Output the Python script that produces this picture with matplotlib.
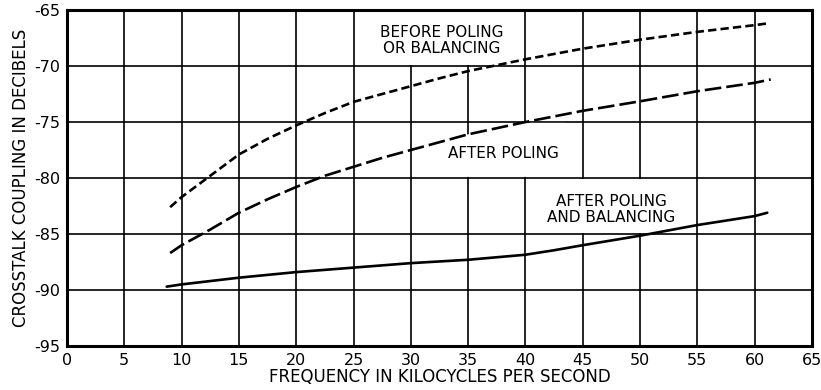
import numpy as np
import matplotlib
matplotlib.use("Agg")
import matplotlib.pyplot as plt
from matplotlib.patches import Rectangle

plt.rcParams['font.family'] = ['DejaVu Sans']
plt.rcParams['lines.scale_dashes'] = False

# Data (frequency in kc, crosstalk coupling in dB)
freq_before = [9.0, 10, 12.5, 15, 17.5, 20, 22.5, 25, 27.5, 30, 32.5, 35, 40, 45, 50, 55, 60, 61.1]
before_poling = [-82.6, -81.7, -79.8, -77.9, -76.5, -75.3, -74.2, -73.2, -72.5, -71.8, -71.1,
                 -70.45, -69.4, -68.45, -67.65, -66.95, -66.35, -66.2]

freq_after = [9.0, 10, 12.5, 15, 17.5, 20, 22.5, 25, 27.5, 30, 35, 40, 45, 50, 55, 60, 61.4]
after_poling = [-86.7, -86.0, -84.6, -83.1, -81.9, -80.8, -79.8, -79.0, -78.2, -77.5, -76.1,
                -75.0, -74.0, -73.15, -72.25, -71.5, -71.2]

freq_bal = [8.7, 10, 15, 20, 25, 30, 35, 40, 42.5, 45, 50, 55, 60, 61.1]
after_balancing = [-89.7, -89.5, -88.9, -88.4, -88.0, -87.6, -87.3, -86.85, -86.45, -86.0,
                   -85.15, -84.2, -83.4, -83.1]

x_ticks = list(range(0, 66, 5))
y_ticks = list(range(-95, -64, 5))

fig = plt.figure(figsize=(8.21, 3.90), dpi=100)
ax = fig.add_axes([0.0816, 0.1128, 0.9074, 0.8615])
ax.set_xlim(0, 65)
ax.set_ylim(-95, -65)
ax.set_xticks(x_ticks)
ax.set_yticks(y_ticks)
ax.set_xticklabels([str(v) for v in x_ticks])
ax.set_yticklabels(["-" + str(abs(v)) for v in y_ticks])
ax.tick_params(length=0, labelsize=11.5, pad=5)
ax.grid(True, color='black', linewidth=1.2, zorder=1)
ax.set_axisbelow(True)
for s in ax.spines.values():
    s.set_linewidth(2.2)
    s.set_zorder(5)

# white label backgrounds covering grid
ax.add_patch(Rectangle((26, -69.9), 13, 4.8, facecolor='white', edgecolor='none', zorder=2))
ax.add_patch(Rectangle((41, -84.9), 13, 4.8, facecolor='white', edgecolor='none', zorder=2))
xa = np.array(freq_after)
ya = np.array(after_poling)
xs = np.linspace(31, 43.5, 60)
ax.fill_between(xs, -79.9, np.minimum(np.interp(xs, xa, ya), -75.08),
                facecolor='white', edgecolor='none', zorder=2)

lw = 1.9
ax.plot(freq_before, before_poling, color='black', lw=lw, linestyle=(0, (6, 3)), zorder=3,
        solid_joinstyle='round', dash_joinstyle='round')
ax.plot(freq_after, after_poling, color='black', lw=lw, linestyle=(0, (12, 3.6)), zorder=3,
        solid_joinstyle='round', dash_joinstyle='round')
ax.plot(freq_bal, after_balancing, color='black', lw=lw, linestyle='-', zorder=3,
        solid_joinstyle='round', solid_capstyle='round')

ax.text(32.7, -67.7, "BEFORE POLING\nOR BALANCING", ha='center', va='center', fontsize=11,
        linespacing=1.1, zorder=4)
ax.text(38.1, -77.8, "AFTER POLING", ha='center', va='center', fontsize=11, zorder=4)
ax.text(47.5, -82.8, "AFTER POLING\nAND BALANCING", ha='center', va='center', fontsize=11,
        linespacing=1.1, zorder=4)

ax.set_xlabel("FREQUENCY IN KILOCYCLES PER SECOND", fontsize=12, labelpad=0)
ax.set_ylabel("CROSSTALK COUPLING IN DECIBELS", fontsize=12, labelpad=3)

fig.savefig("out.png", dpi=100)
